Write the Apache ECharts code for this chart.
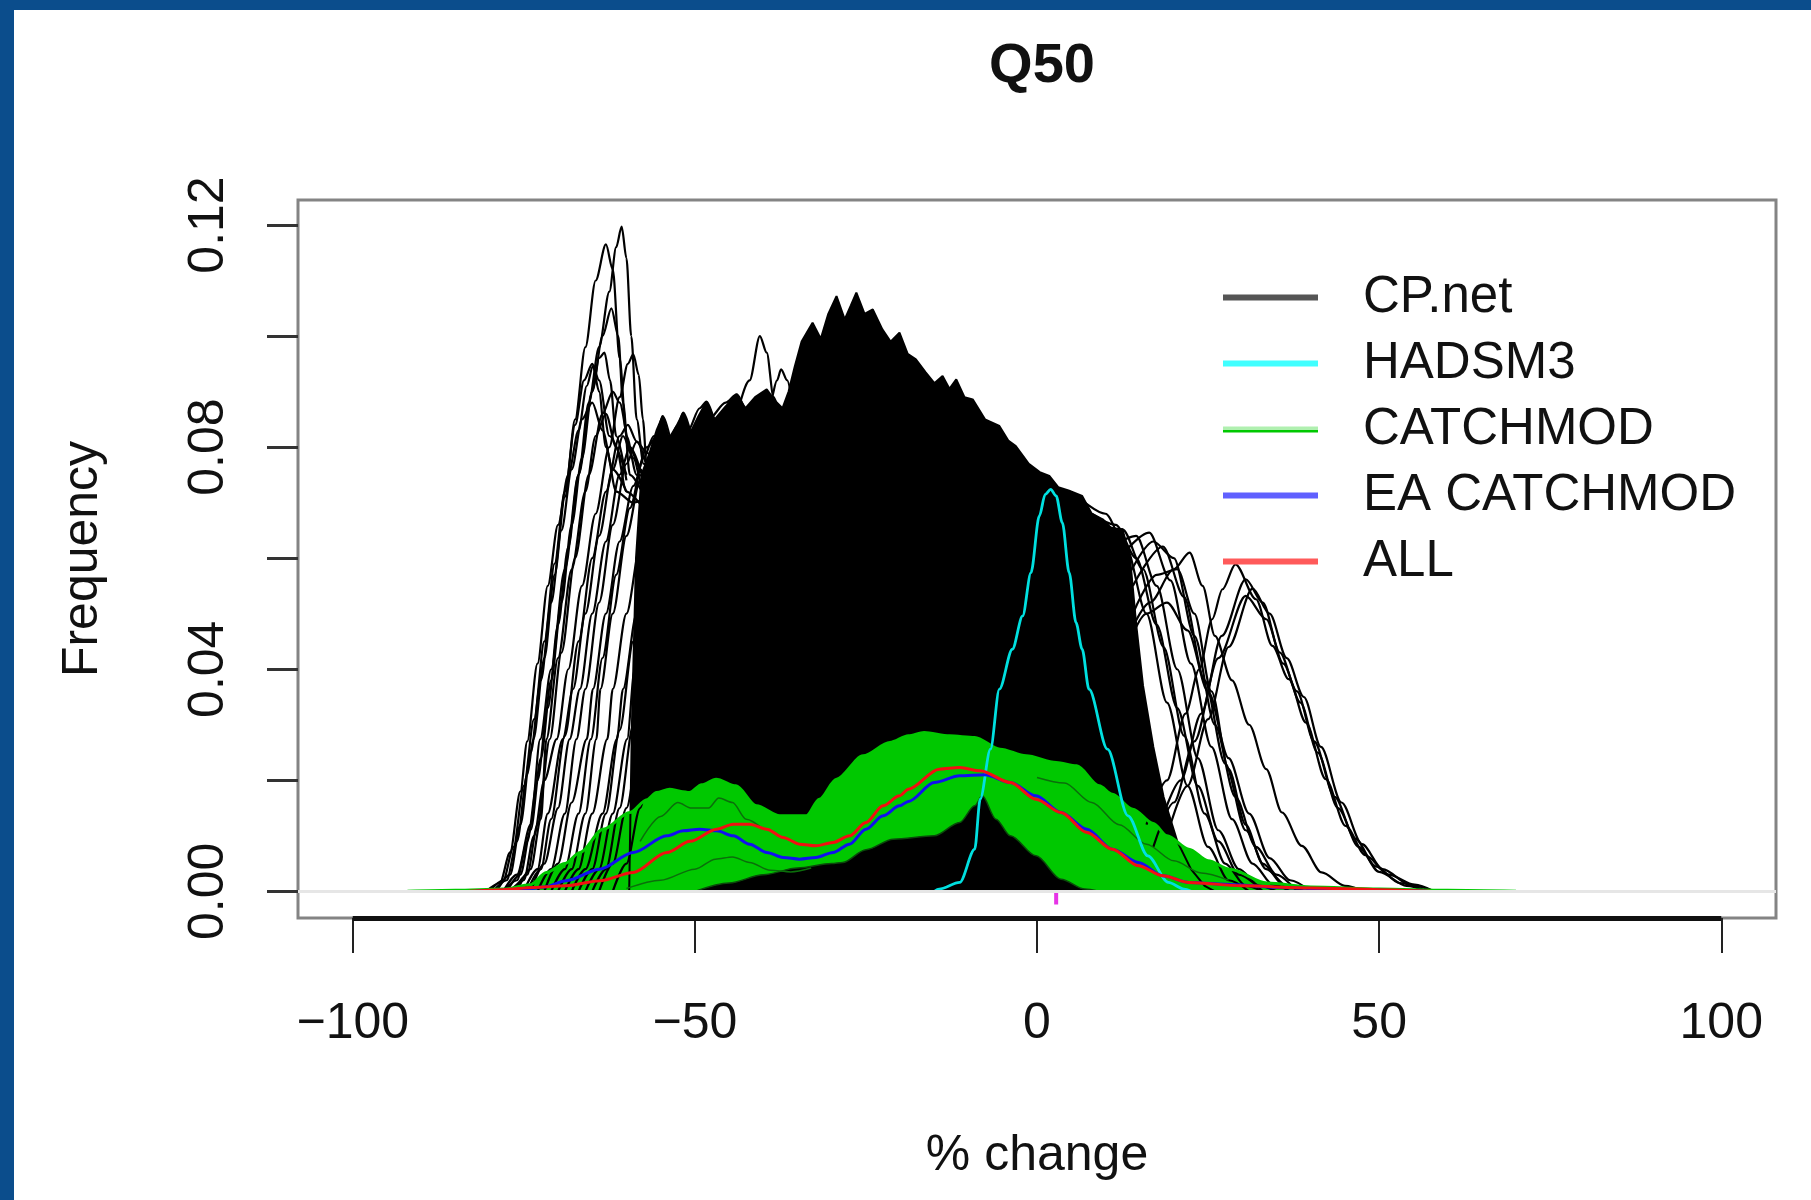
<!DOCTYPE html>
<html>
<head>
<meta charset="utf-8">
<script src="https://cdn.jsdelivr.net/npm/echarts@6.0.0/dist/echarts.min.js"></script>
<style>
html,body{margin:0;padding:0;background:#fff;}
#chart{width:1811px;height:1200px;}
</style>
</head>
<body>
<div id="chart"></div>
<script>
// ---------- axes ----------
const xTicks = [-100, -50, 0, 50, 100];
const yTicks = [0, 0.02, 0.04, 0.06, 0.08, 0.10, 0.12];
const yLabelTicks = [0, 0.04, 0.08, 0.12];
const xRange = [-108, 108];
const yRange = [-0.0048, 0.1245];

// ---------- CP.net : solid core of the ensemble (upper envelope) ----------
const cpCore = [[-59.6,0],[-59.2,0.03],[-58.6,0.06],[-57.8,0.075],[-56.6,0.079],[-55.6,0.083],[-54.7,0.0856],[-53.8,0.0815],[-52.6,0.0840],[-51.7,0.0862],[-50.7,0.0825],[-49.5,0.0855],[-48.3,0.0882],[-47.1,0.0850],[-45.6,0.0872],[-43.9,0.0895],[-42.6,0.0870],[-41.2,0.0890],[-39.5,0.0904],[-38.4,0.0885],[-37.2,0.0870],[-36.3,0.0900],[-35.4,0.0945],[-34.4,0.0990],[-32.8,0.1024],[-31.6,0.0995],[-30.5,0.1040],[-29.3,0.1072],[-28.1,0.1030],[-27.2,0.1055],[-26.4,0.1078],[-25.2,0.1040],[-24.0,0.1048],[-22.6,0.1012],[-21.4,0.0990],[-20.1,0.1006],[-18.9,0.0968],[-17.7,0.0958],[-16.3,0.0935],[-15.0,0.0915],[-13.8,0.0928],[-12.8,0.0905],[-11.8,0.0922],[-10.6,0.0890],[-9.4,0.0886],[-7.6,0.0850],[-5.5,0.0838],[-4.2,0.0812],[-3.1,0.0802],[-1.2,0.0770],[0.4,0.0755],[1.8,0.0748],[3.1,0.0728],[4.6,0.0722],[6.6,0.0712],[8.0,0.0680],[9.6,0.0670],[11.0,0.0652],[12.5,0.0652],[13.6,0.060],[14.5,0.048],[15.5,0.037],[17.0,0.026],[18.5,0.017],[20.5,0.009],[22.5,0.004],[24.5,0.001],[26,0]];

// ---------- CP.net : individual members visible on the left flank ----------
const cpLeftCurves = [
  [[-80.5,0],[-78.5,0.0015],[-77,0.007],[-75.5,0.018],[-74.5,0.027],[-73,0.041],[-71.5,0.055],[-70,0.066],[-68.5,0.075],[-67,0.083],[-65.8,0.091],[-64.9,0.0946],[-64,0.090],[-63,0.080],[-61.5,0.072],[-59,0.070],[-56,0.072]],
  [[-79.5,0],[-77.5,0.002],[-76,0.009],[-74.5,0.021],[-73.6,0.0274],[-72,0.042],[-70.5,0.057],[-69,0.071],[-67.5,0.085],[-66,0.098],[-64.5,0.110],[-63,0.1165],[-62,0.112],[-61,0.096],[-60,0.082],[-58.5,0.075],[-56,0.074]],
  [[-78,0],[-76,0.002],[-74.5,0.009],[-73,0.020],[-71.5,0.033],[-70,0.048],[-68.5,0.062],[-67,0.075],[-65.5,0.088],[-64,0.098],[-62.5,0.108],[-61.5,0.116],[-60.7,0.1197],[-60,0.114],[-59.3,0.100],[-58.5,0.085],[-57.5,0.077],[-55,0.075]],
  [[-77,0],[-75,0.002],[-73.5,0.010],[-72,0.020],[-70.2,0.0274],[-68.5,0.040],[-66.5,0.055],[-64.5,0.068],[-62.5,0.080],[-61,0.089],[-59.8,0.095],[-59,0.0967],[-58.2,0.093],[-57.6,0.085],[-57,0.076],[-55,0.070]],
  [[-78,0],[-76,0.003],[-74,0.012],[-72.6,0.0274],[-71,0.040],[-69,0.058],[-67,0.075],[-65,0.090],[-63.5,0.100],[-62.2,0.105],[-61.2,0.100],[-60.5,0.088],[-59.5,0.075],[-57,0.070]],
  [[-76,0],[-74,0.004],[-72.5,0.013],[-71.7,0.0274],[-70,0.042],[-68,0.058],[-66,0.072],[-64.5,0.082],[-63,0.086],[-61.5,0.080],[-60,0.072],[-57,0.068]],
  [[-75,0],[-73,0.004],[-71.5,0.014],[-69.3,0.0274],[-67.8,0.0364],[-66,0.050],[-64,0.064],[-62,0.076],[-60.5,0.082],[-59,0.078],[-57.5,0.070]],
  [[-74,0],[-72,0.005],[-70,0.015],[-68.3,0.0274],[-66.8,0.0364],[-65,0.050],[-63,0.063],[-61,0.075],[-59.5,0.080],[-58,0.076],[-56,0.070]],
  [[-73,0],[-71,0.004],[-69,0.014],[-67.3,0.0274],[-66,0.0364],[-64,0.052],[-62,0.066],[-60,0.077],[-58.5,0.081],[-57,0.079],[-55,0.072]],
  [[-72,0],[-70,0.005],[-68,0.016],[-65.8,0.0274],[-64.9,0.0364],[-63,0.050],[-61,0.063],[-59,0.073],[-57,0.080],[-55.5,0.082],[-54,0.078]],
  [[-70,0],[-68,0.004],[-66,0.014],[-64.4,0.0274],[-63.8,0.0364],[-62,0.050],[-60,0.064],[-58,0.074],[-56,0.080],[-54.7,0.0856],[-53.5,0.081]],
  [[-69,0],[-67,0.004],[-65,0.014],[-62.8,0.0274],[-62,0.0364],[-60,0.050],[-58,0.062],[-56,0.072],[-54,0.080],[-52.5,0.084],[-51.7,0.0862],[-50.5,0.082]],
  [[-68,0],[-66,0.004],[-63.5,0.014],[-61.4,0.0274],[-60.5,0.0364],[-58.5,0.050],[-56.5,0.062],[-54,0.073],[-51,0.083],[-49.3,0.087],[-48.3,0.0882],[-47,0.084]],
  [[-66,0],[-64,0.004],[-62,0.014],[-59.9,0.0274],[-58.8,0.040],[-57,0.055],[-55,0.068],[-52,0.078],[-48,0.085],[-45.5,0.088],[-43.9,0.0895],[-42.5,0.086]],
  [[-64,0],[-62,0.005],[-60,0.015],[-58,0.0274],[-56.5,0.040],[-54.5,0.055],[-52,0.066],[-49,0.075],[-45,0.083],[-42,0.092],[-40.5,0.100],[-39.5,0.097],[-38.5,0.089],[-37.5,0.085]],
  [[-62,0],[-60,0.005],[-58,0.015],[-56.1,0.0274],[-54.6,0.038],[-52,0.050],[-49,0.062],[-45,0.073],[-41,0.083],[-39,0.088],[-38,0.092],[-37.4,0.094],[-36.5,0.092],[-35.5,0.086]],
  [[-79,0],[-77,0.003],[-75.5,0.012],[-74,0.025],[-72.5,0.038],[-71,0.052],[-69.5,0.065],[-68,0.076],[-66.5,0.085],[-65,0.088],[-63.5,0.083],[-62,0.076],[-60,0.072]],
  [[-77.5,0],[-75.5,0.003],[-74,0.011],[-72.5,0.024],[-71,0.038],[-69.5,0.052],[-68,0.066],[-66.5,0.078],[-65,0.090],[-64,0.096],[-63.2,0.097],[-62.4,0.092],[-61.5,0.082],[-60,0.074]],
  [[-76.5,0],[-74.5,0.003],[-73,0.012],[-71.2,0.0274],[-69.5,0.043],[-67.5,0.060],[-65.5,0.075],[-63.5,0.086],[-62,0.090],[-61,0.088],[-59.5,0.080],[-57.5,0.074]],
  [[-74.5,0],[-72.5,0.004],[-71,0.013],[-69,0.028],[-67,0.045],[-65,0.060],[-63,0.072],[-61,0.082],[-59.8,0.084],[-58.5,0.081],[-56.5,0.074]],
  [[-71,0],[-69,0.004],[-67,0.014],[-65.2,0.0274],[-63.5,0.042],[-61.5,0.057],[-59.5,0.069],[-57.5,0.078],[-56,0.082],[-54.5,0.080]],
  [[-67,0],[-65,0.004],[-63,0.014],[-61,0.029],[-59,0.045],[-57,0.059],[-55,0.070],[-53,0.078],[-51,0.082],[-49.5,0.081]],
  [[-65,0],[-63,0.004],[-61,0.015],[-59,0.030],[-57.2,0.045],[-55,0.058],[-52.5,0.068],[-50,0.076],[-47,0.083],[-45,0.085]],
  [[-80,0],[-78,0.002],[-76.5,0.008],[-75,0.019],[-73.5,0.031],[-72,0.045],[-70.5,0.059],[-69,0.072],[-67.5,0.084],[-66.2,0.092],[-65,0.095],[-64,0.092],[-62.5,0.082],[-60,0.075]]
];

// ---------- CP.net : individual members visible on the right flank ----------
const cpRightCurves = [
  [[6,0.071],[10,0.068],[13,0.062],[16,0.050],[19,0.034],[22,0.019],[25,0.008],[28,0.002],[31,0]],
  [[9,0.066],[12.5,0.0652],[15.5,0.058],[18.5,0.044],[21.5,0.028],[24.5,0.014],[27.5,0.005],[30.5,0.001],[33,0]],
  [[11,0.062],[14.5,0.064],[17.5,0.055],[20.5,0.040],[23.5,0.024],[26.5,0.011],[29.5,0.004],[32.5,0.001],[35,0]],
  [[12,0.060],[16.4,0.0646],[19.5,0.056],[22.5,0.041],[25.5,0.026],[28.5,0.013],[31.5,0.005],[34.5,0.0012],[37,0]],
  [[14,0.055],[18.4,0.0621],[21.5,0.053],[24.5,0.038],[27.5,0.023],[30.5,0.011],[33.5,0.004],[36.5,0.001],[39,0]],
  [[13,0.045],[16.5,0.052],[20,0.058],[22.3,0.061],[24.2,0.055],[26,0.046],[28.5,0.038],[31,0.030],[33.5,0.022],[35.8,0.0142],[38.7,0.0082],[41.6,0.0034],[45,0.001],[48,0]],
  [[14,0.050],[17.5,0.057],[20.5,0.058],[23,0.050],[25.5,0.036],[28,0.022],[30.5,0.012],[33,0.005],[36,0.0012],[39,0]],
  [[12,0.040],[16,0.050],[19,0.052],[22,0.047],[25,0.036],[28,0.024],[31,0.014],[34,0.006],[37,0.002],[40,0]],
  [[16,0.012],[19,0.020],[21.7,0.032],[23.7,0.040],[25.6,0.049],[27.1,0.0544],[29,0.0589],[32,0.0526],[34.4,0.0442],[36.8,0.0382],[39.3,0.0304],[42.2,0.0202],[45.1,0.0118],[48,0.0065],[51.4,0.003],[55.2,0.0012],[58,0]],
  [[18,0.012],[21,0.020],[24,0.032],[27,0.046],[30.5,0.0562],[33,0.052],[35.5,0.043],[38,0.036],[40.5,0.027],[43.5,0.017],[46.5,0.0095],[49.5,0.0045],[53,0.0015],[57,0]],
  [[17,0.008],[20,0.016],[23,0.027],[26.5,0.042],[30.5,0.0532],[33.5,0.049],[36,0.041],[38.5,0.034],[41,0.025],[44,0.015],[47,0.008],[50,0.0035],[54,0.001],[57,0]],
  [[19,0.010],[22,0.019],[25,0.031],[28,0.044],[31.5,0.0545],[34,0.050],[36.5,0.042],[39,0.035],[41.5,0.026],[44.5,0.016],[47.5,0.0085],[50.5,0.004],[54.5,0.0012],[58,0]],
  [[8,0.068],[11.5,0.066],[14.5,0.060],[17.5,0.048],[20.5,0.033],[23.5,0.019],[26.5,0.009],[29.5,0.003],[33,0]],
  [[13,0.056],[17,0.063],[20,0.060],[23,0.046],[26,0.030],[29,0.017],[32,0.008],[35,0.003],[38,0]]
];

// ---------- CATCHMOD ensemble band ----------
const catchmodUpper = [[-92,0],[-85,0.0002],[-78,0.0004],[-74,0.0012],[-71.7,0.0034],[-69,0.005],[-66.8,0.007],[-63.4,0.0112],[-59.5,0.0142],[-57,0.0165],[-55.6,0.0178],[-53.7,0.0184],[-52,0.018],[-50.8,0.0178],[-49,0.0192],[-46.9,0.0202],[-44,0.0190],[-41,0.0154],[-37.6,0.0136],[-33.7,0.0136],[-31.8,0.0166],[-29.3,0.0202],[-25.4,0.0244],[-21.5,0.0268],[-18.8,0.0280],[-16.5,0.0286],[-12.8,0.0280],[-9.1,0.0277],[-5.4,0.0256],[-1.6,0.0244],[2.8,0.0232],[5.8,0.0226],[9.1,0.019],[11,0.0175],[14,0.0148],[17,0.0122],[19,0.0100],[22.2,0.0076],[25,0.0055],[28.2,0.0040],[33.6,0.0015],[40,0.0008],[50,0.0004],[60,0.0002],[70,0]];
const catchmodLower = [[-50,0],[-45,0.0015],[-40,0.003],[-35,0.0042],[-30,0.005],[-28.4,0.0052],[-25,0.0075],[-21,0.0094],[-15,0.0100],[-11.3,0.0124],[-9.1,0.0154],[-8,0.0172],[-6,0.013],[-3.9,0.0100],[-0.15,0.0064],[3.5,0.0022],[7,0.0004],[9,0]];
const catchmodEdges = [
  [[-60,0.0005],[-55,0.002],[-50,0.004],[-47,0.0058],[-44.5,0.0062],[-42,0.0052],[-39,0.0038],[-36,0.0035],[-33,0.0042]],
  [[-58,0.009],[-55,0.0135],[-52.5,0.0160],[-50.5,0.0150],[-48,0.0150],[-46.5,0.0168],[-44.5,0.0160],[-42.5,0.0130],[-40,0.0112]],
  [[0,0.0205],[4,0.0195],[8,0.016],[12,0.012],[16,0.0085],[20,0.0055],[24,0.0033],[28,0.002]]
];

// ---------- single model curves ----------
const hadsm3 = [[-15,0],[-14.3,0.0004],[-11.3,0.0016],[-9.1,0.0076],[-8.3,0.0166],[-6.8,0.0256],[-5.5,0.0364],[-3.6,0.0436],[-2.1,0.0496],[-0.88,0.0574],[0.34,0.0676],[1.2,0.0715],[2.0,0.0724],[2.8,0.0712],[3.7,0.0664],[4.7,0.0574],[5.7,0.0484],[6.6,0.0436],[7.6,0.0364],[10.3,0.0256],[13.3,0.0136],[16.2,0.0064],[19.2,0.0016],[21.5,0.0004],[22.5,0]];
const eaCatchmod = [[-82,0],[-75,0.0003],[-72,0.0008],[-68.8,0.0019],[-63.9,0.004],[-59,0.007],[-54.1,0.010],[-51.7,0.0109],[-49.3,0.0112],[-46.8,0.0109],[-44.4,0.010],[-42,0.0085],[-39.5,0.007],[-37.1,0.0061],[-34.7,0.0058],[-32.3,0.0061],[-29.8,0.007],[-27.4,0.0085],[-25,0.0112],[-22.5,0.0136],[-20.1,0.0154],[-18.8,0.0162],[-15,0.0196],[-11.3,0.0208],[-7.6,0.021],[-3.9,0.0196],[-0.15,0.0172],[3.5,0.0142],[7.3,0.0112],[11,0.0076],[14.8,0.0052],[18.4,0.0028],[22.2,0.0016],[28.7,0.0012],[35,0.0007],[45,0.0003],[57,0]];
const allModels = [[-83,0],[-78,0.0003],[-73.6,0.0007],[-68.8,0.001],[-63.9,0.0019],[-59,0.0034],[-54.1,0.007],[-50.7,0.009],[-46.8,0.0112],[-44.4,0.0121],[-42,0.0121],[-39.5,0.0112],[-37.1,0.0097],[-34.7,0.0085],[-32.3,0.0082],[-29.8,0.0088],[-27.4,0.010],[-25,0.0124],[-22.5,0.0154],[-20.1,0.0172],[-18.8,0.0184],[-14.3,0.022],[-11.3,0.0223],[-8.3,0.0217],[-3.9,0.0196],[-0.15,0.0166],[3.5,0.0142],[7.3,0.0106],[11,0.0076],[14.8,0.0046],[18.4,0.0028],[22.2,0.0016],[30,0.001],[40,0.0006],[50,0.0003],[57.5,0]];
const observedMark = [[2.8, -0.0002]];

// ---------- legend ----------
const legendNames = ['CP.net', 'HADSM3', 'CATCHMOD', 'EA CATCHMOD', 'ALL'];

const FONT = 'Liberation Sans';

function curve(name, data, color, width, smooth) {
  return {
    type: 'line', name: name, data: data, showSymbol: false, symbol: 'none',
    smooth: smooth, smoothMonotone: 'x', silent: true,
    lineStyle: { color: color, width: width }, itemStyle: { color: color },
    animation: false
  };
}

const series = [];
// light grey zero line (bottom-most)
series.push({
  type: 'line', name: '', data: [[xRange[0], 0]], symbol: 'none', silent: true,
  lineStyle: { width: 0, opacity: 0 },
  markLine: { silent: true, symbol: 'none', label: { show: false }, animation: false,
    lineStyle: { color: '#e6e6e6', width: 3, type: 'solid' }, data: [{ yAxis: 0 }] }
});
// CP.net core
series.push({
  type: 'line', name: 'CP.net', data: cpCore, symbol: 'none', showSymbol: false, silent: true,
  lineStyle: { color: '#000', width: 2 }, areaStyle: { color: '#000', opacity: 1 }, itemStyle: { color: '#000' }
});
cpLeftCurves.forEach(c => series.push(curve('CP.net', c, '#000', 2.2, 0.3)));
cpRightCurves.forEach(c => series.push(curve('CP.net', c, '#000', 2.2, 0.3)));
// CATCHMOD band
series.push({
  type: 'line', name: 'CATCHMOD', data: catchmodUpper, symbol: 'none', showSymbol: false, silent: true,
  smooth: 0.3, smoothMonotone: 'x',
  lineStyle: { color: '#00c800', width: 3 }, areaStyle: { color: '#00c800', opacity: 1 }, itemStyle: { color: '#00c800' }
});
series.push({
  type: 'line', name: 'CP.net', data: catchmodLower, symbol: 'none', showSymbol: false, silent: true,
  smooth: 0.3, smoothMonotone: 'x',
  lineStyle: { color: '#0a4a0a', width: 1.5 }, areaStyle: { color: '#000', opacity: 1 }, itemStyle: { color: '#000' }
});
catchmodEdges.forEach(c => series.push(curve('CATCHMOD', c, '#0b6e0b', 1.5, 0.3)));
// single models
series.push(curve('HADSM3', hadsm3, '#00e0e0', 2.8, 0.3));
series.push(curve('EA CATCHMOD', eaCatchmod, '#1010f0', 3, 0.3));
series.push(curve('ALL', allModels, '#f21010', 3, 0.3));
series.push({
  type: 'scatter', name: '', data: observedMark, silent: true, clip: false,
  symbol: 'path://M5,0 L9,0 L9,7 L14,7 L14,11 L9,11 L9,24 L5,24 L5,11 L0,11 L0,7 L5,7 Z',
  symbolSize: [14, 24], itemStyle: { color: '#e000e0' }
});
// x axis line (R style: from first to last tick)
series.push({
  type: 'line', name: '', data: [[xRange[0], yRange[0]]], symbol: 'none', silent: true, clip: false,
  lineStyle: { width: 0, opacity: 0 },
  markLine: { silent: true, symbol: 'none', label: { show: false }, animation: false,
    data: [[{ coord: [xTicks[0], yRange[0]], lineStyle: { color: '#111', width: 5, type: 'solid' } },
            { coord: [xTicks[xTicks.length - 1], yRange[0]] }]] }
});

const chart = echarts.init(document.getElementById('chart'), null, { renderer: 'canvas' });
chart.setOption({
  animation: false,
  backgroundColor: '#ffffff',
  graphic: [
    { type: 'rect', shape: { x: 0, y: 0, width: 1811, height: 10 }, style: { fill: '#0b4d8c' }, z: 100 },
    { type: 'rect', shape: { x: 0, y: 0, width: 14, height: 1200 }, style: { fill: '#0b4d8c' }, z: 100 }
  ],
  title: {
    text: 'Q50', left: 1037, top: 34, textAlign: 'center',
    textStyle: { fontFamily: FONT, fontWeight: 'bold', fontSize: 56, color: '#111' }
  },
  legend: {
    orient: 'vertical', left: 1218, top: 267, itemWidth: 95, itemHeight: 6, itemGap: 15,
    selectedMode: false,
    textStyle: { fontFamily: FONT, fontSize: 51, color: '#111', lineHeight: 50, padding: [0, 0, 0, 40] },
    data: [
      { name: legendNames[0], icon: 'rect', itemStyle: { color: '#555555', borderWidth: 0 } },
      { name: legendNames[1], icon: 'rect', itemStyle: { color: '#40ffff', borderWidth: 0 } },
      { name: legendNames[2], icon: 'rect', itemStyle: { borderWidth: 0, color: { type: 'linear', x: 0, y: 0, x2: 0, y2: 1,
          colorStops: [{ offset: 0, color: '#b0f0b0' }, { offset: 0.5, color: '#b0f0b0' }, { offset: 0.5, color: '#00c800' }, { offset: 1, color: '#00c800' }] } } },
      { name: legendNames[3], icon: 'rect', itemStyle: { color: '#6060ff', borderWidth: 0 } },
      { name: legendNames[4], icon: 'rect', itemStyle: { color: '#ff5a5a', borderWidth: 0 } }
    ]
  },
  grid: {
    left: 298, top: 200, width: 1478, height: 718, show: true,
    borderColor: '#848484', borderWidth: 3, backgroundColor: 'transparent', containLabel: false
  },
  xAxis: {
    type: 'value', min: xRange[0], max: xRange[1],
    name: '% change', nameLocation: 'middle', nameGap: 213,
    nameTextStyle: { fontFamily: FONT, fontSize: 50, color: '#111' },
    axisLine: { show: false, onZero: false },
    axisTick: { show: true, customValues: xTicks, length: 35, lineStyle: { color: '#222', width: 2 } },
    axisLabel: { show: true, customValues: xTicks, margin: 81, fontFamily: FONT, fontSize: 50, color: '#111',
      formatter: v => (v < 0 ? '\u2212' + Math.abs(v) : String(v)) },
    splitLine: { show: false }
  },
  yAxis: {
    type: 'value', min: yRange[0], max: yRange[1],
    name: 'Frequency', nameLocation: 'middle', nameGap: 190, nameRotate: 90,
    nameTextStyle: { fontFamily: FONT, fontSize: 50, color: '#111' },
    axisLine: { show: false, onZero: false },
    axisTick: { show: true, customValues: yTicks, length: 31, lineStyle: { color: '#333', width: 3 } },
    axisLabel: { show: true, customValues: yLabelTicks, rotate: 90, margin: 64, fontFamily: FONT, fontSize: 50, color: '#111',
      formatter: v => v.toFixed(2) },
    splitLine: { show: false }
  },
  series: series
});
</script>
</body>
</html>
